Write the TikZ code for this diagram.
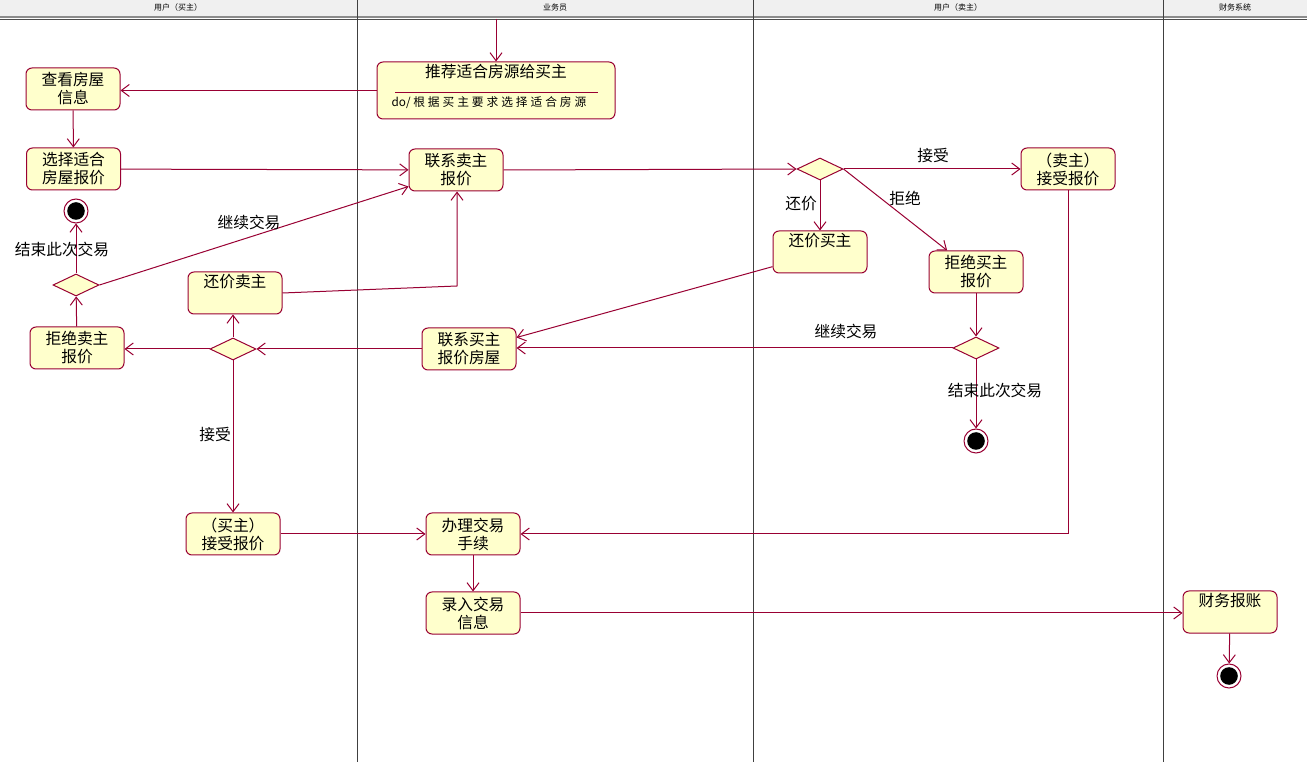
\documentclass[tikz,border=0pt]{standalone}
\usepackage{fontspec}
\setmainfont{Noto Sans CJK SC}
\usetikzlibrary{shapes.geometric,arrows.meta}
\definecolor{umlred}{RGB}{153,0,51}
\definecolor{umlfill}{RGB}{255,255,204}
\definecolor{hdr}{RGB}{240,240,240}
\newcommand{\chsp}{\hspace{2.2pt}}
\begin{document}
\begin{tikzpicture}[x=0.75pt,y=-0.75pt,
 act/.style={draw=umlred, fill=umlfill, rounded corners=4.5pt, minimum width=70.5pt, minimum height=31.5pt, inner sep=0pt, align=center, font=\fontsize{11.8}{13.5}\selectfont, line width=0.75pt},
 dec/.style={draw=umlred, fill=umlfill, diamond, minimum width=34.5pt, minimum height=16.5pt, inner sep=0pt, line width=0.75pt},
 fin/.style={circle, draw=umlred, fill=white, minimum size=18pt, inner sep=0pt, line width=0.75pt, path picture={\fill[black] (path picture bounding box.center) circle (6.6pt);}},
 flow/.style={draw=umlred, line width=0.75pt, -{Straight Barb[length=6pt,width=9pt]}},
 lbl/.style={font=\fontsize{11.8}{13}\selectfont, inner sep=1pt},
 hd/.style={font=\fontsize{6}{7}\selectfont, inner sep=0pt},
 lane/.style={draw=black!75, line width=0.75pt}
]
\useasboundingbox (0,0) rectangle (1307,762);
\fill[white] (0,0) rectangle (1307,762);
% header
\fill[hdr] (0,0) rectangle (1307,16);
\draw[black!45, line width=1.5pt] (0,17) -- (1307,17);
\draw[black!70, line width=0.75pt] (0,19.5) -- (1307,19.5);
\foreach \x in {357,753,1163} \draw[lane] (\x,0) -- (\x,762);
\node[hd] (h1) at (178,7) {用户（买主）};
\node[hd] (h2) at (555,7) {业务员};
\node[hd] (h3) at (958,7) {用户（卖主）};
\node[hd] (h4) at (1235,7) {财务系统};

% nodes
\coordinate (start) at (496,19);
\node[act, minimum width=178.5pt, minimum height=42.75pt] (rec) at (496,90.5) {};
\node[lbl] (rect) at (496,72) {推荐适合房源给买主};
\draw[umlred, line width=0.75pt] (395,93) -- (598,93);
\node[inner sep=0pt, font=\fontsize{8.8}{10}\selectfont] (recdo) at (489,103) {do/ 根\chsp 据\chsp 买\chsp 主\chsp 要\chsp 求\chsp 选\chsp 择\chsp 适\chsp 合\chsp 房\chsp 源};

\node[act] (view) at (73,89) {查看房屋\\信息};
\node[act] (choose) at (73.5,169) {选择适合\\房屋报价};
\node[fin] (f1) at (76,211) {};
\node[dec] (d1) at (76,285) {};
\node[act] (rejS) at (77,348) {拒绝卖主\\报价};
\node[act] (counterS) at (235,293) {还价卖主\\\strut};
\node[dec] (d2) at (233,349) {};
\node[act] (contactS) at (456,170) {联系卖主\\报价};
\node[act] (contactB) at (469,349) {联系买主\\报价房屋};
\node[dec] (d3) at (820,169) {};
\node[act] (accS) at (1068,169) {（卖主）\\接受报价};
\node[act] (counterB) at (820,252) {还价买主\\\strut};
\node[act] (rejB) at (976,272) {拒绝买主\\报价};
\node[dec] (d4) at (976,348) {};
\node[fin] (f2) at (976,441) {};
\node[act] (accB) at (233,534) {（买主）\\接受报价};
\node[act] (deal) at (473,534) {办理交易\\手续};
\node[act] (record) at (473,613) {录入交易\\信息};
\node[act] (acct) at (1230,612) {财务报账\\\strut};
\node[fin] (f3) at (1229,676) {};
\coordinate (cs1) at (457,286);

% flows
\draw[flow] (start) -- (rec.north);
\draw[flow] (rec.west) -- (rec.west -| view.east);
\draw[flow] (view) -- (choose);
\draw[flow] (choose) -- (contactS);
\draw[flow] (contactS.east) -- (d3.west);
\draw[flow] (d3.east) -- (accS.west);
\node[lbl] (lacc1) at (933,156) {接受};
\draw[flow] (d3.south) -- (counterB.north);
\node[lbl] (lcnt) at (801,204) {还价};
\draw[flow] (d3.east) -- ([xshift=14pt]rejB.north west);
\node[lbl] (lrej) at (905,198) {拒绝};
\draw[flow] ([yshift=-11pt]counterB.west) -- ([yshift=-7.5pt]contactB.north east);
\draw[flow] (rejB) -- (d4);
\draw[flow] (d4.west) -- (d4.west -| contactB.east);
\node[lbl] (lcont2) at (846,331) {继续交易};
\draw[flow] (d4) -- (f2);
\node[lbl] (lend2) at (995,390) {结束此次交易};
\draw[flow] (accS.south) |- (deal.east);
\draw[flow] (contactB.west) -- (contactB.west -| d2.east);
\draw[flow] (d2.west) -- (d2.west -| rejS.east);
\draw[flow] (d2.north) -- (d2.north |- counterS.south);
\draw[flow] (d2.south) -- (accB.north);
\node[lbl] (lacc2) at (215,435) {接受};
\draw[flow] (counterS.east) -- (cs1) -- (cs1 |- contactS.south);
\draw[flow] (rejS) -- (d1);
\draw[flow] (d1) -- (f1);
\node[lbl] (lend1) at (62,249) {结束此次交易};
\draw[flow] (d1.east) -- ([yshift=3.75pt]contactS.south west);
\node[lbl] (lcont1) at (249,222) {继续交易};
\draw[flow] (accB) -- (deal);
\draw[flow] (deal) -- (record);
\draw[flow] (record.east) -- (record.east -| acct.west);
\draw[flow] (acct) -- (f3);
\end{tikzpicture}
\end{document}
